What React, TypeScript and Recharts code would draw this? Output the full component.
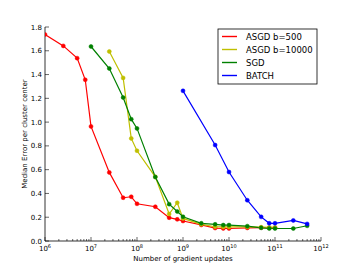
import React from "react";
import { LineChart, Line, XAxis, YAxis } from "recharts";

const xRed = [1e6, 2.5e6, 5e6, 7.5e6, 1e7, 2.5e7, 5e7, 7.5e7, 1e8, 2.5e8, 5e8, 7.5e8, 1e9, 2.5e9, 5e9, 7.5e9, 1e10, 2.5e10, 5e10, 7.5e10, 1e11];
const yRed = [1.737, 1.641, 1.538, 1.356, 0.964, 0.577, 0.364, 0.372, 0.313, 0.288, 0.196, 0.182, 0.168, 0.135, 0.109, 0.106, 0.105, 0.11, 0.112, 0.112, 0.112];

const xYellow = [2.5e7, 5e7, 7.5e7, 1e8, 2.5e8, 5e8, 7.5e8, 1e9, 2.5e9, 5e9, 7.5e9, 1e10, 2.5e10, 5e10, 7.5e10, 1e11];
const yYellow = [1.594, 1.372, 0.863, 0.759, 0.54, 0.227, 0.322, 0.19, 0.14, 0.12, 0.118, 0.118, 0.118, 0.116, 0.114, 0.114];

const xGreen = [1e7, 2.5e7, 5e7, 7.5e7, 1e8, 2.5e8, 5e8, 7.5e8, 1e9, 2.5e9, 5e9, 7.5e9, 1e10, 2.5e10, 5e10, 7.5e10, 1e11, 2.5e11, 5e11];
const yGreen = [1.636, 1.451, 1.207, 1.025, 0.947, 0.538, 0.31, 0.248, 0.204, 0.149, 0.14, 0.134, 0.134, 0.125, 0.111, 0.105, 0.105, 0.105, 0.128];

const xBlue = [1e9, 5e9, 1e10, 2.5e10, 5e10, 7.5e10, 1e11, 2.5e11, 5e11];
const yBlue = [1.263, 0.807, 0.58, 0.343, 0.203, 0.149, 0.149, 0.173, 0.144];

const seriesNames = ["ASGD b=500", "ASGD b=10000", "SGD", "BATCH"];
const seriesColors = ["#ff0000", "#bfbf00", "#008000", "#0000ff"];

const exponents = [6, 7, 8, 9, 10, 11, 12];
const yTicks = [0, 0.2, 0.4, 0.6, 0.8, 1.0, 1.2, 1.4, 1.6, 1.8];

const xTicks: number[] = [];
exponents.forEach((e) => {
  xTicks.push(Math.pow(10, e));
  if (e < 12) for (let m = 2; m <= 9; m++) xTicks.push(m * Math.pow(10, e));
});

const toPoints = (xs: number[], ys: number[]) => xs.map((x, i) => ({ x, y: ys[i] }));
const series = [
  toPoints(xRed, yRed),
  toPoints(xYellow, yYellow),
  toPoints(xGreen, yGreen),
  toPoints(xBlue, yBlue),
];

const FONT = "DejaVu Sans, sans-serif";

const isMajor = (v: number) => {
  const l = Math.log10(v);
  return Math.abs(l - Math.round(l)) < 1e-6;
};

const BottomTick = (props: any) => {
  const { x, y, payload } = props;
  const major = isMajor(payload.value);
  const e = Math.round(Math.log10(payload.value));
  return (
    <g>
      <line x1={x} x2={x} y1={y} y2={y - (major ? 4 : 2)} stroke="#000" strokeWidth={0.6} />
      {major && (
        <text x={x} y={y + 9.5} textAnchor="middle" fontSize={7} fontFamily={FONT} fill="#000">
          10<tspan dy={-3} fontSize={5}>{e}</tspan>
        </text>
      )}
    </g>
  );
};

const TopTick = (props: any) => {
  const { x, y, payload } = props;
  const major = isMajor(payload.value);
  return <line x1={x} x2={x} y1={y} y2={y + (major ? 4 : 2)} stroke="#000" strokeWidth={0.6} />;
};

const LeftTick = (props: any) => {
  const { x, y, payload } = props;
  return (
    <g>
      <line x1={x} x2={x + 4} y1={y} y2={y} stroke="#000" strokeWidth={0.6} />
      <text x={x - 3} y={y + 2.5} textAnchor="end" fontSize={7} fontFamily={FONT} fill="#000">
        {payload.value.toFixed(1)}
      </text>
    </g>
  );
};

const RightTick = (props: any) => {
  const { x, y } = props;
  return <line x1={x} x2={x - 4} y1={y} y2={y} stroke="#000" strokeWidth={0.6} />;
};

export default function App() {
  return (
    <div style={{ position: "absolute", left: 0, top: 0, width: 357, height: 269, background: "#fff" }}>
      <LineChart width={357} height={269} margin={{ top: 27, right: 36, bottom: 0, left: 0 }}>
        <XAxis
          xAxisId="bottom"
          dataKey="x"
          type="number"
          scale="log"
          domain={[1e6, 1e12]}
          allowDataOverflow
          ticks={xTicks}
          interval={0}
          height={28}
          tickSize={0}
          tickMargin={0}
          tickLine={false}
          tick={<BottomTick />}
          axisLine={{ stroke: "#000", strokeWidth: 0.8 }}
        />
        <XAxis
          xAxisId="top"
          orientation="top"
          dataKey="x"
          type="number"
          scale="log"
          domain={[1e6, 1e12]}
          allowDataOverflow
          ticks={xTicks}
          interval={0}
          height={0}
          tickSize={0}
          tickMargin={0}
          tickLine={false}
          tick={<TopTick />}
          axisLine={{ stroke: "#000", strokeWidth: 0.8 }}
        />
        <YAxis
          yAxisId="left"
          type="number"
          domain={[0, 1.8]}
          ticks={yTicks}
          interval={0}
          width={45}
          tickSize={0}
          tickMargin={0}
          tickLine={false}
          tick={<LeftTick />}
          axisLine={{ stroke: "#000", strokeWidth: 0.8 }}
        />
        <YAxis
          yAxisId="right"
          orientation="right"
          type="number"
          domain={[0, 1.8]}
          ticks={yTicks}
          interval={0}
          width={0}
          tickSize={0}
          tickMargin={0}
          tickLine={false}
          tick={<RightTick />}
          axisLine={{ stroke: "#000", strokeWidth: 0.8 }}
        />
        {series.map((d, i) => (
          <Line
            key={seriesNames[i]}
            xAxisId="bottom"
            yAxisId="left"
            data={d}
            dataKey="y"
            name={seriesNames[i]}
            stroke={seriesColors[i]}
            strokeWidth={1.2}
            dot={{ r: 2, fill: seriesColors[i], stroke: seriesColors[i], strokeWidth: 0.5 }}
            isAnimationActive={false}
          />
        ))}
      </LineChart>
      <svg width={357} height={269} style={{ position: "absolute", left: 0, top: 0, pointerEvents: "none" }}>
        <text
          x={0}
          y={0}
          transform="translate(26.5,134) rotate(-90)"
          textAnchor="middle"
          fontSize={7}
          fontFamily={FONT}
          fill="#000"
        >
          Median Error per cluster center
        </text>
        <text x={183} y={261} textAnchor="middle" fontSize={7} fontFamily={FONT} fill="#000">
          Number of gradient updates
        </text>
        <rect x={218} y={29} width={99} height={55} fill="#fff" stroke="#000" strokeWidth={0.8} />
        {seriesNames.map((n, i) => {
          const cy = 36.5 + i * 13;
          return (
            <g key={n}>
              <rect x={222} y={cy - 0.7} width={15} height={1.4} fill={seriesColors[i]} />
              <text x={246} y={cy + 3} fontSize={8.5} fontFamily={FONT} fill="#000">
                {n}
              </text>
            </g>
          );
        })}
      </svg>
    </div>
  );
}
